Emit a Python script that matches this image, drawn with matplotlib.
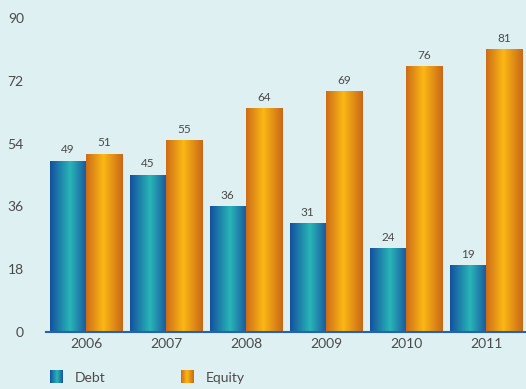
import numpy as np
import matplotlib.pyplot as plt
from matplotlib.colors import LinearSegmentedColormap

# dados
anos = ['2006', '2007', '2008', '2009', '2010', '2011']
debt = [49, 45, 36, 31, 24, 19]
equity = [51, 55, 64, 69, 76, 81]
yticks = [0, 18, 36, 54, 72, 90]

fundo = '#dff0f2'
texto = '#4a4a4a'
plt.rcParams['font.family'] = ['Lato', 'DejaVu Sans']

cmap_debt = LinearSegmentedColormap.from_list(
    'debt', [(0, '#1450a0'), (0.55, '#28b6b6'), (1, '#1a55a0')])
cmap_eq = LinearSegmentedColormap.from_list(
    'eq', [(0, '#cc6c18'), (0.47, '#fcb814'), (1, '#c86818')])
grad = np.linspace(0, 1, 128).reshape(1, -1)

fig = plt.figure(figsize=(5.26, 3.89), dpi=100, facecolor=fundo)
ax = fig.add_axes([46 / 526, 1 - 332 / 389, 480 / 526, 314 / 389])
ax.set_facecolor(fundo)

w = 0.455
x = np.arange(len(anos))


def barra_grad(x0, altura, cmap):
    ax.imshow(grad, extent=[x0, x0 + w, 0, altura], aspect='auto',
              cmap=cmap, interpolation='bilinear', zorder=2)


for i in range(len(anos)):
    barra_grad(x[i] - w, debt[i], cmap_debt)
    barra_grad(x[i], equity[i], cmap_eq)
    ax.text(x[i] - w / 2, debt[i] + 1.6, str(debt[i]), ha='center', va='bottom',
            fontsize=8.5, color=texto)
    ax.text(x[i] + w / 2, equity[i] + 1.6, str(equity[i]), ha='center', va='bottom',
            fontsize=8.5, color=texto)

ax.set_xlim(-0.5, len(anos) - 0.5)
ax.set_ylim(0, 90)
ax.set_xticks(x)
ax.set_xticklabels(anos)
ax.set_yticks(yticks)
ax.tick_params(length=0, colors=texto, labelsize=10)
ax.tick_params(axis='y', pad=16)
ax.tick_params(axis='x', pad=4)

for s in ['top', 'right', 'left']:
    ax.spines[s].set_visible(False)
ax.spines['bottom'].set_color('#2a62aa')
ax.spines['bottom'].set_linewidth(1.5)
ax.spines['bottom'].set_zorder(3)

# legenda
for px, nome, cm in [(50, 'Debt', cmap_debt), (181, 'Equity', cmap_eq)]:
    lax = fig.add_axes([px / 526, 1 - 383 / 389, 13 / 526, 13 / 389])
    lax.imshow(grad, aspect='auto', cmap=cm, interpolation='bilinear')
    lax.axis('off')
    fig.text((px + 25) / 526, 1 - 378 / 389, nome, fontsize=10, color=texto,
             va='center', ha='left')

fig.savefig('out.png', facecolor=fundo)
